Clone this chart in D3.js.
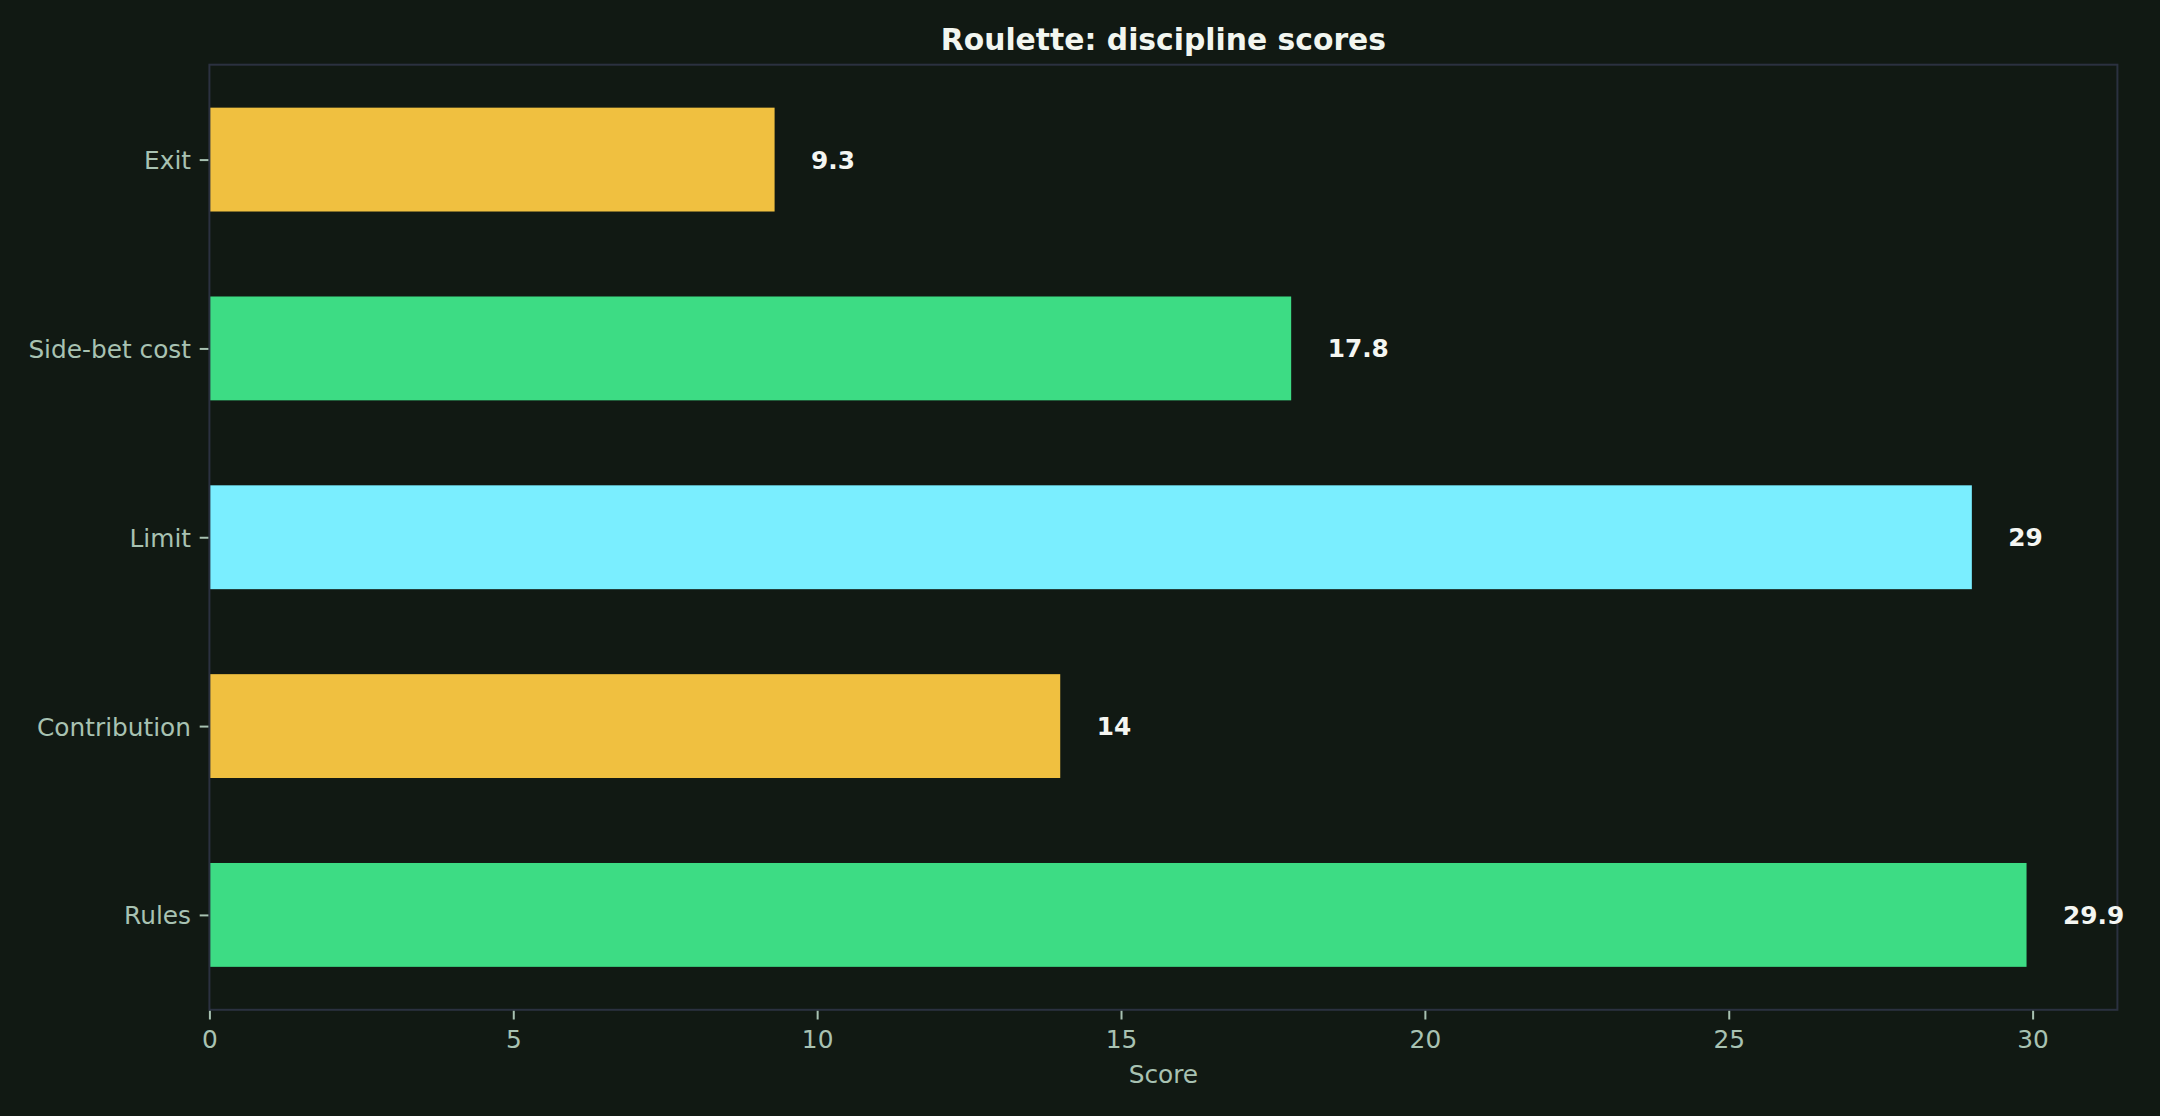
<!DOCTYPE html>
<html>
<head>
<meta charset="utf-8">
<script src="https://cdn.jsdelivr.net/npm/d3@7"></script>
<style>
html,body{margin:0;padding:0;background:#111913;}
svg{display:block;}
</style>
</head>
<body>
<svg id="chart" width="2160" height="1116"></svg>
<script>
const categories = ["Rules", "Contribution", "Limit", "Side-bet cost", "Exit"];
const scores = [29.9, 14, 29, 17.8, 9.3];
const barColors = ["#3ddc84", "#f0c040", "#7aeeff", "#3ddc84", "#f0c040"];
const xTicks = [0, 5, 10, 15, 20, 25, 30];
const titleText = "Roulette: discipline scores";
const xLabel = "Score";

const W = 2160, H = 1116;
const m = {left: 209.4, right: 2117.4, top: 64.7, bottom: 1009.8};
const bg = "#111913", spine = "#2b3140", tickCol = "#a8c2b2";
const svg = d3.select("#chart");
svg.append("rect").attr("width", W).attr("height", H).attr("fill", bg);

const barH = 0.55;
const xMax = d3.max(scores) * 1.05;
const x = d3.scaleLinear().domain([0, xMax]).range([m.left, m.right]);
const yPad = (categories.length - 1 + barH) * 0.05;
const y = d3.scaleLinear()
  .domain([-barH / 2 - yPad, categories.length - 1 + barH / 2 + yPad])
  .range([m.bottom, m.top]);

const font = "'DejaVu Sans', sans-serif";

// bars
svg.append("g").selectAll("rect").data(scores).join("rect")
  .attr("x", x(0))
  .attr("y", (d, i) => y(i + barH / 2))
  .attr("width", d => x(d) - x(0))
  .attr("height", (d, i) => y(i - barH / 2) - y(i + barH / 2))
  .attr("fill", (d, i) => barColors[i]);

// frame
svg.append("rect")
  .attr("x", m.left).attr("y", m.top)
  .attr("width", m.right - m.left).attr("height", m.bottom - m.top)
  .attr("fill", "none").attr("stroke", spine).attr("stroke-width", 2);

// value labels
svg.append("g").selectAll("text").data(scores).join("text")
  .attr("x", d => x(d + 0.6))
  .attr("y", (d, i) => y(i))
  .attr("dy", "0.36em")
  .attr("font-family", font).attr("font-weight", "bold").attr("font-size", 24.8)
  .attr("fill", "#f4f6f2")
  .text(d => d3.format("~g")(d));

// x axis
const xAxis = svg.append("g").attr("transform", `translate(0,${m.bottom + 1})`)
  .call(d3.axisBottom(x).tickValues(xTicks).tickFormat(d3.format("d")).tickSize(8.7).tickPadding(8.7).tickSizeOuter(0));
xAxis.select(".domain").remove();
xAxis.selectAll("line").attr("stroke", tickCol).attr("stroke-width", 2);
xAxis.selectAll("text").attr("fill", tickCol).attr("font-family", font).attr("font-size", 24.8).attr("dy", "0.78em");

// y axis
const yAxis = svg.append("g").attr("transform", `translate(${m.left - 1},0)`)
  .call(d3.axisLeft(y).tickValues(d3.range(categories.length)).tickFormat(i => categories[i]).tickSize(8.7).tickPadding(8.7).tickSizeOuter(0));
yAxis.select(".domain").remove();
yAxis.selectAll("line").attr("stroke", tickCol).attr("stroke-width", 2);
yAxis.selectAll("text").attr("fill", tickCol).attr("font-family", font).attr("font-size", 24.8).attr("dy", "0.36em");

// title
svg.append("text")
  .attr("x", (m.left + m.right) / 2).attr("y", m.top - 15)
  .attr("text-anchor", "middle")
  .attr("font-family", font).attr("font-weight", "bold").attr("font-size", 29.8)
  .attr("fill", "#f2f6f0").text(titleText);

// x label
svg.append("text")
  .attr("x", (m.left + m.right) / 2).attr("y", 1082.5)
  .attr("text-anchor", "middle")
  .attr("font-family", font).attr("font-size", 24.8)
  .attr("fill", tickCol).text(xLabel);
</script>
</body>
</html>
